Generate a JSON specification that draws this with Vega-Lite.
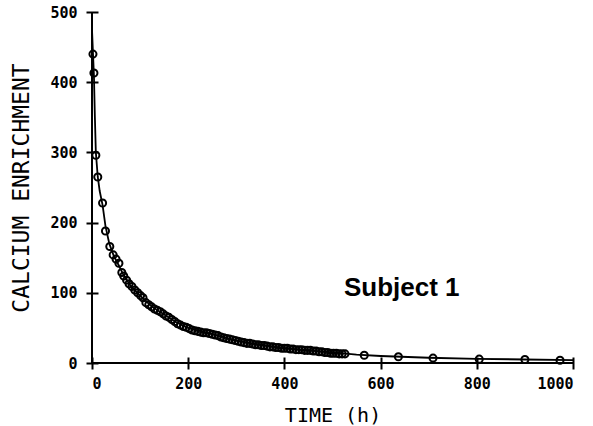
{
  "$schema": "https://vega.github.io/schema/vega-lite/v6.json",
  "width": 481,
  "height": 351,
  "autosize": "none",
  "padding": {"left": 92, "top": 12, "right": 20, "bottom": 63},
  "background": "white",
  "config": {
    "view": {"stroke": null},
    "axis": {
      "domain": false,
      "grid": false,
      "ticks": true,
      "tickColor": "black",
      "tickWidth": 2,
      "tickSize": 12,
      "offset": -6,
      "labelFont": "DejaVu Sans Mono",
      "labelFontSize": 15,
      "labelFontWeight": "bold",
      "labelColor": "black",
      "titleFont": "DejaVu Sans Mono",
      "titleFontWeight": "normal",
      "titleColor": "black"
    },
    "axisX": {"labelPadding": 7, "titlePadding": 14, "titleFontSize": 20},
    "axisY": {"labelPadding": 9, "titlePadding": 16, "titleFontSize": 23}
  },
  "datasets": {
    "obs": [
      {"time": 2, "enrich": 440}, {"time": 4, "enrich": 413}, {"time": 8, "enrich": 296},
      {"time": 12, "enrich": 265}, {"time": 22, "enrich": 228}, {"time": 28, "enrich": 188},
      {"time": 37, "enrich": 166}, {"time": 44, "enrich": 154}, {"time": 50, "enrich": 148},
      {"time": 56, "enrich": 142}, {"time": 62, "enrich": 129}, {"time": 66, "enrich": 124},
      {"time": 72, "enrich": 118}, {"time": 77, "enrich": 113}, {"time": 83, "enrich": 109},
      {"time": 89, "enrich": 104}, {"time": 95, "enrich": 100}, {"time": 101, "enrich": 96},
      {"time": 106, "enrich": 93}, {"time": 112, "enrich": 86}, {"time": 118, "enrich": 83},
      {"time": 124, "enrich": 80}, {"time": 130, "enrich": 77}, {"time": 136, "enrich": 75},
      {"time": 142, "enrich": 73}, {"time": 148, "enrich": 70}, {"time": 154, "enrich": 67},
      {"time": 160, "enrich": 65}, {"time": 166, "enrich": 62}, {"time": 172, "enrich": 59},
      {"time": 178, "enrich": 56}, {"time": 184, "enrich": 54}, {"time": 190, "enrich": 52},
      {"time": 196, "enrich": 51}, {"time": 202, "enrich": 49}, {"time": 208, "enrich": 47},
      {"time": 214, "enrich": 46}, {"time": 220, "enrich": 45}, {"time": 226, "enrich": 44},
      {"time": 232, "enrich": 43}, {"time": 238, "enrich": 43}, {"time": 244, "enrich": 42},
      {"time": 250, "enrich": 41}, {"time": 256, "enrich": 40}, {"time": 262, "enrich": 39},
      {"time": 268, "enrich": 37}, {"time": 274, "enrich": 36}, {"time": 280, "enrich": 35},
      {"time": 286, "enrich": 34}, {"time": 292, "enrich": 33}, {"time": 298, "enrich": 32},
      {"time": 304, "enrich": 31}, {"time": 310, "enrich": 30}, {"time": 316, "enrich": 29},
      {"time": 322, "enrich": 28}, {"time": 328, "enrich": 28}, {"time": 334, "enrich": 27},
      {"time": 340, "enrich": 26}, {"time": 346, "enrich": 26}, {"time": 352, "enrich": 25},
      {"time": 358, "enrich": 25}, {"time": 364, "enrich": 24}, {"time": 370, "enrich": 23},
      {"time": 376, "enrich": 23}, {"time": 382, "enrich": 22}, {"time": 388, "enrich": 22},
      {"time": 394, "enrich": 21}, {"time": 400, "enrich": 21}, {"time": 406, "enrich": 21},
      {"time": 412, "enrich": 20}, {"time": 418, "enrich": 20}, {"time": 424, "enrich": 19},
      {"time": 430, "enrich": 19}, {"time": 436, "enrich": 19}, {"time": 442, "enrich": 18},
      {"time": 448, "enrich": 18}, {"time": 454, "enrich": 18}, {"time": 460, "enrich": 17},
      {"time": 466, "enrich": 17}, {"time": 472, "enrich": 16}, {"time": 478, "enrich": 16},
      {"time": 484, "enrich": 15}, {"time": 490, "enrich": 15}, {"time": 496, "enrich": 14},
      {"time": 502, "enrich": 14}, {"time": 508, "enrich": 14}, {"time": 514, "enrich": 13},
      {"time": 520, "enrich": 13}, {"time": 526, "enrich": 13},
      {"time": 566, "enrich": 11}, {"time": 637, "enrich": 9}, {"time": 709, "enrich": 7},
      {"time": 805, "enrich": 5.5}, {"time": 900, "enrich": 5}, {"time": 973, "enrich": 4}
    ],
    "curve": [
      {"time": 0, "enrich": 475}, {"time": 2, "enrich": 442}, {"time": 4, "enrich": 410},
      {"time": 6, "enrich": 350}, {"time": 8, "enrich": 300}, {"time": 12, "enrich": 265},
      {"time": 16, "enrich": 245}, {"time": 22, "enrich": 225}, {"time": 28, "enrich": 195},
      {"time": 36, "enrich": 170}, {"time": 45, "enrich": 153}, {"time": 55, "enrich": 140},
      {"time": 65, "enrich": 126}, {"time": 80, "enrich": 110}, {"time": 100, "enrich": 96},
      {"time": 125, "enrich": 80}, {"time": 150, "enrich": 69}, {"time": 175, "enrich": 58},
      {"time": 200, "enrich": 50}, {"time": 250, "enrich": 41}, {"time": 300, "enrich": 32},
      {"time": 350, "enrich": 26}, {"time": 400, "enrich": 21}, {"time": 450, "enrich": 18},
      {"time": 500, "enrich": 15}, {"time": 550, "enrich": 12}, {"time": 600, "enrich": 10},
      {"time": 700, "enrich": 7.5}, {"time": 800, "enrich": 6}, {"time": 900, "enrich": 5},
      {"time": 1000, "enrich": 4}
    ],
    "label": [{"time": 644, "enrich": 95, "text": "Subject 1"}]
  },
  "layer": [
    {
      "data": {"values": [{"v": 0}]},
      "mark": {"type": "rule", "color": "black", "strokeWidth": 2},
      "encoding": {"y": {"field": "v", "type": "quantitative"}}
    },
    {
      "data": {"values": [{"v": 0}]},
      "mark": {"type": "rule", "color": "black", "strokeWidth": 2},
      "encoding": {"x": {"field": "v", "type": "quantitative"}}
    },
    {
      "data": {"name": "curve"},
      "mark": {"type": "line", "color": "black", "strokeWidth": 1.8},
      "encoding": {
        "x": {"field": "time", "type": "quantitative"},
        "y": {"field": "enrich", "type": "quantitative"}
      }
    },
    {
      "data": {"name": "obs"},
      "mark": {"type": "point", "shape": "circle", "filled": false, "color": "black", "strokeWidth": 2, "size": 50, "opacity": 1},
      "encoding": {
        "x": {
          "field": "time", "type": "quantitative", "title": "TIME (h)",
          "scale": {"domain": [0, 1000], "nice": false},
          "axis": {"values": [0, 200, 400, 600, 800, 1000], "format": "d"}
        },
        "y": {
          "field": "enrich", "type": "quantitative", "title": "CALCIUM ENRICHMENT",
          "scale": {"domain": [0, 500], "nice": false},
          "axis": {"values": [0, 100, 200, 300, 400, 500], "format": "d"}
        }
      }
    },
    {
      "data": {"name": "label"},
      "mark": {"type": "text", "font": "Liberation Sans", "fontWeight": "bold", "fontSize": 26, "align": "center", "baseline": "alphabetic", "color": "black"},
      "encoding": {
        "x": {"field": "time", "type": "quantitative"},
        "y": {"field": "enrich", "type": "quantitative"},
        "text": {"field": "text"}
      }
    }
  ]
}
